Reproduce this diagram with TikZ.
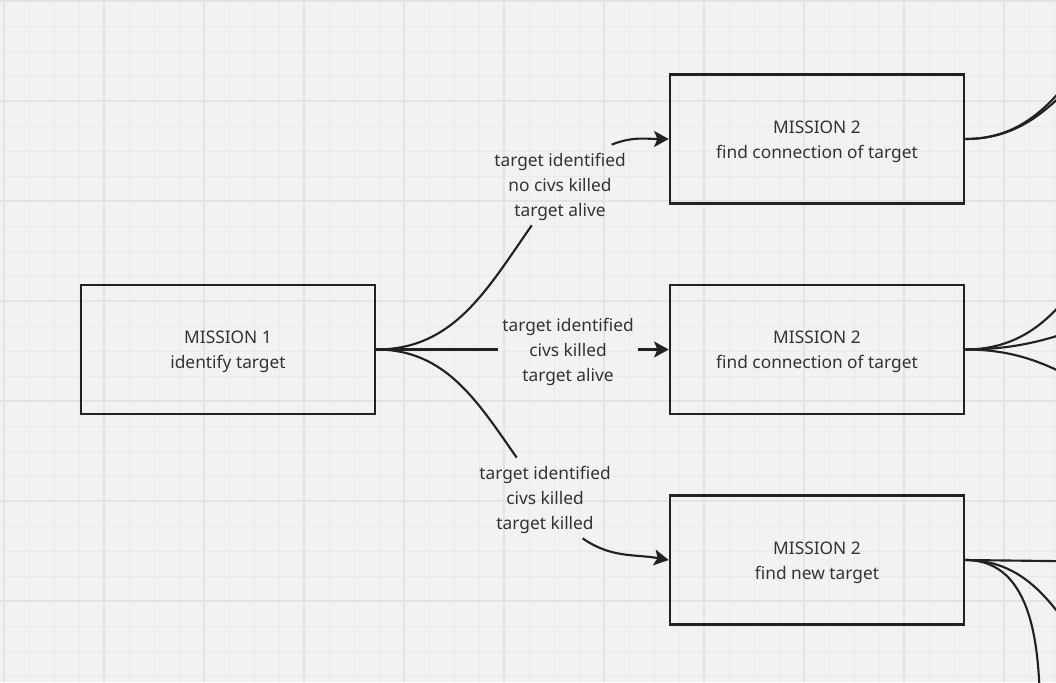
\documentclass[tikz,border=0pt]{standalone}
\usepackage{fontspec}
\setmainfont{Noto Sans}
\usetikzlibrary{arrows.meta}
\newcommand{\topstrut}{\rule{0pt}{13.5pt}}
\begin{document}
\begin{tikzpicture}[x=0.75pt, y=-0.75pt, >={Stealth[length=11pt, width=12pt, inset=2.5pt]},
		font=\fontsize{13}{18.75}\selectfont,
		mission/.style={draw=inkdark, line width=1.9pt, minimum width=220.5pt, minimum height=97pt, align=center, text=textgray},
		cond/.style={align=center, inner sep=3pt, text=textgray},
		conn/.style={draw=inkdark, line width=1.6pt}]
	\definecolor{bgpaper}{RGB}{242,242,242}
	\definecolor{gridminor}{RGB}{234,234,234}
	\definecolor{gridmajor}{RGB}{228,228,228}
	\definecolor{inkdark}{RGB}{34,34,34}
	\definecolor{textgray}{RGB}{51,51,51}
	
	% 画布与网格
	\useasboundingbox (0,0) rectangle (1056,682);
	\clip (0,0) rectangle (1056,682);
	\fill[bgpaper] (0,0) rectangle (1056,682);
	\foreach \x in {4,29,...,1054} \draw[gridminor, line width=0.75pt] (\x,0) -- (\x,682);
	\foreach \y in {1,26,...,676} \draw[gridminor, line width=0.75pt] (0,\y) -- (1056,\y);
	\foreach \x in {4,104,...,1004} \draw[gridmajor, line width=0.9pt] (\x,0) -- (\x,682);
	\foreach \y in {1,101,...,601} \draw[gridmajor, line width=0.9pt] (0,\y) -- (1056,\y);
	
	% 任务框
	\node[mission] (m1) at (228,349.5) {\topstrut MISSION 1\\identify target};
	\node[mission] (m2a) at (817,139) {\topstrut MISSION 2\\find connection of target};
	\node[mission] (m2b) at (817,349.5) {\topstrut MISSION 2\\find connection of target};
	\node[mission] (m2c) at (817,560) {\topstrut MISSION 2\\find new target};
	
	% 条件标签
	\node[cond] (c1) at (560,185) {\topstrut target identified\\no civs killed\\target alive};
	\node[cond] (c2) at (568,349.5) {\topstrut target identified\\civs killed\\target alive};
	\node[cond] (c3) at (545,498) {\topstrut target identified\\civs killed\\target killed};
	
	% 分支连线
	\draw[conn] (m1.east) to[out=0, in=235] (c1.235);
	\draw[conn, ->] (c1.38) to[out=22, in=180] (m2a.west);
	\draw[conn] (m1.east) -- (c2);
	\draw[conn, ->] (c2) -- (m2b.west);
	\draw[conn] (m1.east) to[out=0, in=125] (c3.125);
	\draw[conn, ->] (c3.-47) to[out=-35, in=170] (m2c.west);
	
	% 画面外的后续连线
	\coordinate (o1) at (1095,45);
	\coordinate (o2) at (1110,45);
	\coordinate (o3) at (1095,255);
	\coordinate (o4) at (1130,310);
	\coordinate (o5) at (1120,405);
	\coordinate (o6) at (1130,562);
	\coordinate (o7) at (1095,665);
	\coordinate (o8) at (1040,720);
	\draw[conn] (m2a.east) to[out=0, in=235] (o1);
	\draw[conn] (m2a.east) to[out=0, in=225] (o2);
	\draw[conn] (m2b.east) to[out=0, in=240] (o3);
	\draw[conn] (m2b.east) to[out=0, in=200] (o4);
	\draw[conn] (m2b.east) to[out=0, in=150] (o5);
	\draw[conn] (m2c.east) -- (o6);
	\draw[conn] (m2c.east) to[out=0, in=125] (o7);
	\draw[conn] (m2c.east) to[out=0, in=90] (o8);
\end{tikzpicture}
\end{document}
